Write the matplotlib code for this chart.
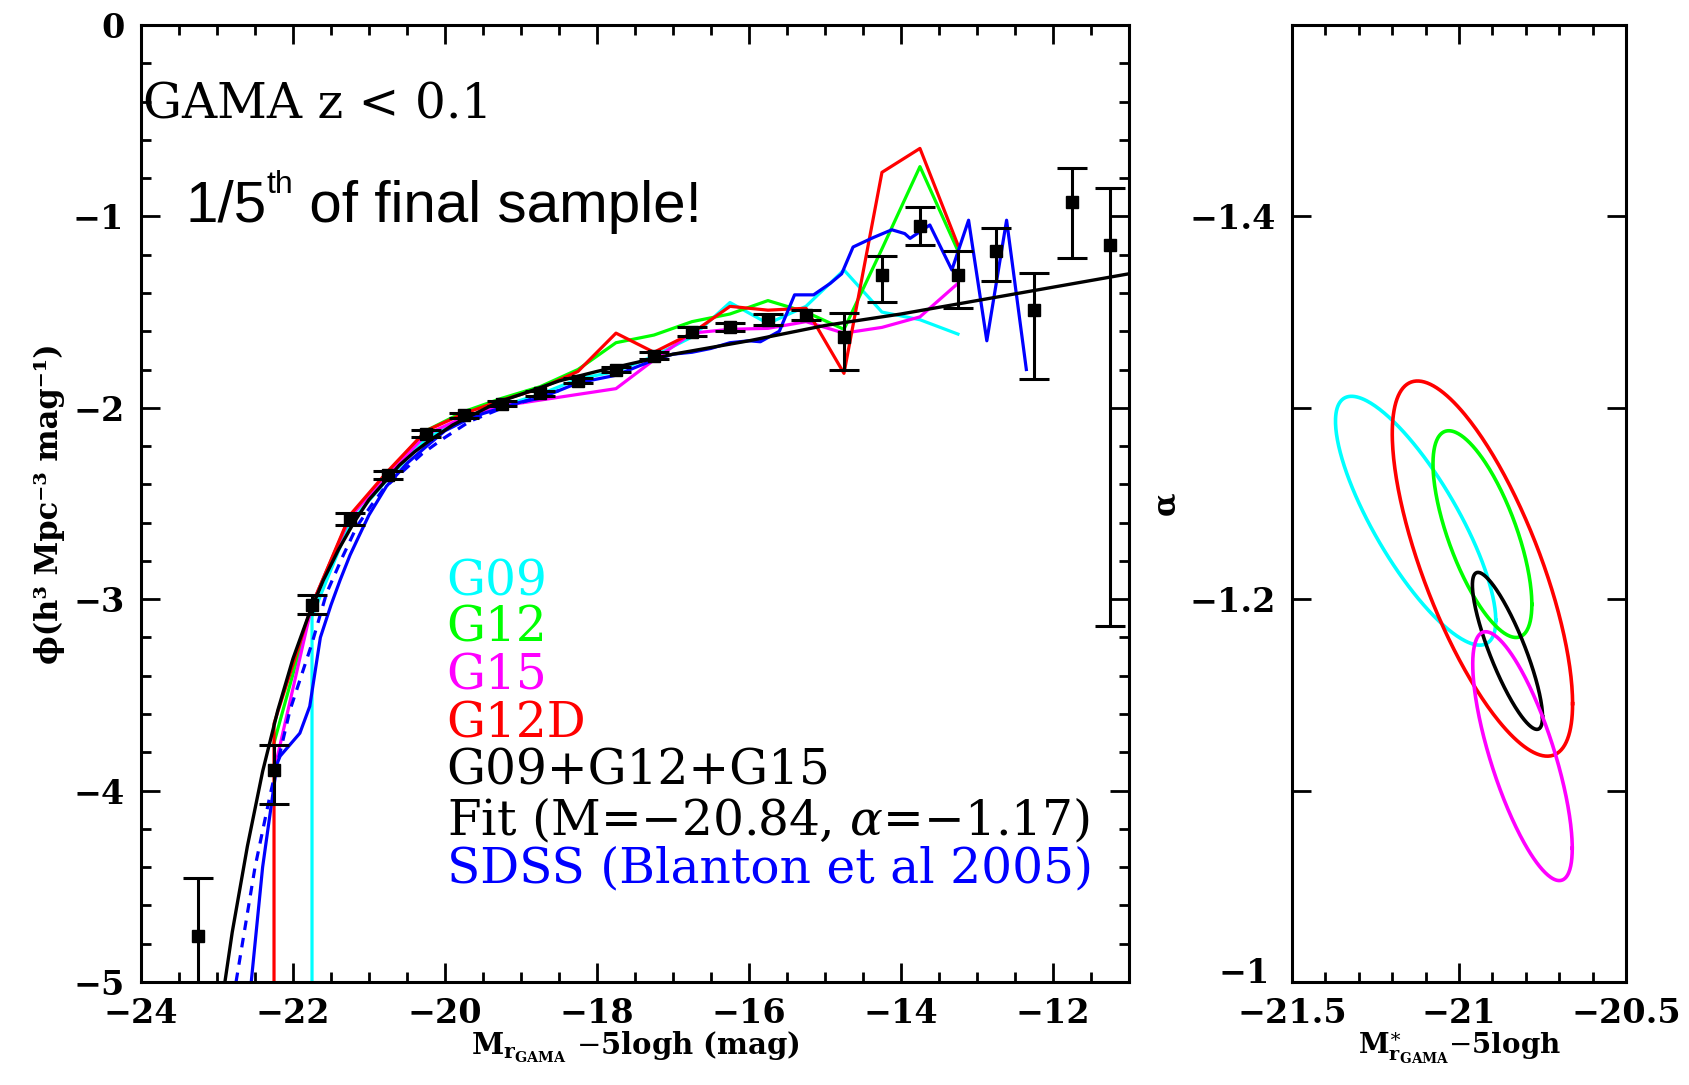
import numpy as np
import matplotlib
matplotlib.use('Agg')
import matplotlib.pyplot as plt
from matplotlib.ticker import MultipleLocator
from matplotlib.transforms import ScaledTranslation

# GAMA luminosity function, binned points (black squares)
lf_m = [-23.25, -22.25, -21.75, -21.25, -20.75, -20.25, -19.75, -19.25, -18.75, -18.25, -17.75, -17.25,
        -16.75, -16.25, -15.75, -15.25, -14.75, -14.25, -13.75, -13.25, -12.75, -12.25, -11.75, -11.25]
lf_phi = [-4.76, -3.89, -3.03, -2.58, -2.35, -2.135, -2.04, -1.978, -1.925, -1.859, -1.80, -1.73,
          -1.603, -1.577, -1.539, -1.516, -1.629, -1.307, -1.051, -1.307, -1.18, -1.49, -0.923, -1.15]
lf_hi = [-4.455, -3.764, -2.98, -2.55, -2.33, -2.115, -2.025, -1.965, -1.91, -1.845, -1.785, -1.71,
         -1.58, -1.555, -1.51, -1.49, -1.505, -1.208, -0.953, -1.18, -1.063, -1.295, -0.749, -0.854]
lf_lo = [-6.0, -4.069, -3.075, -2.61, -2.37, -2.155, -2.055, -1.99, -1.94, -1.873, -1.815, -1.745,
         -1.625, -1.60, -1.565, -1.54, -1.80, -1.446, -1.15, -1.481, -1.336, -1.852, -1.216, -3.14]

# Schechter fit curve (black)
fit_m = [-22.9, -22.8, -22.6, -22.4, -22.2, -22.0, -21.8, -21.6, -21.4, -21.2, -21.0, -20.8, -20.6, -20.4,
         -20.2, -19.9, -19.6, -19.3, -19.0, -18.5, -18.0, -17.0, -16.0, -15.0, -14.0, -13.0, -12.0, -11.0]
fit_phi = [-5.01, -4.74, -4.29, -3.90, -3.58, -3.31, -3.09, -2.90, -2.74, -2.60, -2.48, -2.39, -2.30, -2.23,
           -2.17, -2.09, -2.03, -1.97, -1.93, -1.86, -1.81, -1.72, -1.65, -1.57, -1.51, -1.44, -1.37, -1.30]

# individual regions
g09_m = [-21.75, -21.75, -21.25, -20.75, -20.25, -19.75, -19.25, -18.75, -18.25, -17.75, -17.25, -16.75,
         -16.25, -15.75, -15.25, -14.75, -14.25, -13.75, -13.25]
g09_phi = [-9.0, -3.09, -2.60, -2.37, -2.16, -2.06, -1.99, -1.93, -1.85, -1.81, -1.73, -1.63,
           -1.45, -1.56, -1.47, -1.28, -1.50, -1.54, -1.615]
g12_m = [-22.25, -21.75, -21.25, -20.75, -20.25, -19.75, -19.25, -18.75, -18.25, -17.75, -17.25, -16.75,
         -16.25, -15.75, -15.25, -14.75, -14.25, -13.75, -13.25]
g12_phi = [-3.75, -3.03, -2.57, -2.34, -2.12, -2.02, -1.95, -1.89, -1.80, -1.66, -1.62, -1.55,
           -1.51, -1.44, -1.50, -1.59, -1.17, -0.74, -1.18]
g15_m = [-22.25, -21.75, -21.25, -20.75, -20.25, -19.75, -19.25, -18.75, -18.25, -17.75, -17.25, -16.75,
         -16.25, -15.75, -15.25, -14.75, -14.25, -13.75, -13.25]
g15_phi = [-3.90, -3.03, -2.57, -2.35, -2.14, -2.05, -1.99, -1.96, -1.93, -1.90, -1.75, -1.61,
           -1.59, -1.585, -1.55, -1.61, -1.58, -1.525, -1.35]
g12d_m = [-22.25, -22.25, -21.75, -21.25, -20.75, -20.25, -19.75, -19.25, -18.75, -18.25, -17.75, -17.25,
          -16.75, -16.25, -15.75, -15.25, -14.75, -14.25, -13.75, -13.25]
g12d_phi = [-9.0, -3.65, -3.03, -2.56, -2.33, -2.12, -2.03, -1.96, -1.90, -1.81, -1.61, -1.71,
            -1.61, -1.47, -1.49, -1.48, -1.82, -0.77, -0.645, -1.15]

# SDSS (Blanton et al 2005): data (solid) and fit (dashed)
sdss_m = [-22.55, -22.4, -22.21, -22.17, -21.91, -21.78, -21.64, -21.5, -21.38, -21.25, -21.12, -21.0,
          -20.77, -20.5, -20.24, -20.0, -19.75, -19.5, -19.25, -19.0, -18.75, -18.5, -18.25, -18.0,
          -17.75, -17.5, -17.25, -17.0, -16.75, -16.5, -16.25, -16.0, -15.85, -15.6, -15.4, -15.15,
          -14.93, -14.78, -14.63, -14.36, -14.12, -13.95, -13.88, -13.62, -13.33, -13.11, -12.87, -12.61, -12.35]
sdss_phi = [-5.0, -4.40, -3.86, -3.82, -3.70, -3.56, -3.20, -3.03, -2.90, -2.77, -2.66, -2.56,
            -2.41, -2.29, -2.20, -2.12, -2.07, -2.03, -2.00, -1.97, -1.95, -1.91, -1.87, -1.85,
            -1.83, -1.79, -1.75, -1.72, -1.71, -1.69, -1.66, -1.65, -1.655, -1.60, -1.41, -1.41,
            -1.35, -1.30, -1.16, -1.11, -1.07, -1.09, -1.115, -1.045, -1.28, -1.02, -1.65, -1.02, -1.80]
blfit_m = [-22.75, -22.5, -22.3, -22.04, -21.75, -21.56, -21.35, -21.16, -20.97, -20.8, -20.55, -20.3,
           -20.02, -19.67, -19.3, -18.9, -18.5]
blfit_phi = [-5.0, -4.40, -4.02, -3.58, -3.23, -2.97, -2.78, -2.62, -2.51, -2.42, -2.33, -2.24,
             -2.16, -2.07, -2.01, -1.96, -1.91]

# error ellipses (M*, alpha): centre, half-extent in x and y, correlation
ell_names = ['G09', 'G12D', 'G12', 'G09+G12+G15', 'G15']
ell_colors = ['#00ffff', '#ff0000', '#00ff00', 'black', '#ff00ff']
ell_cx = [-21.13, -20.93, -20.93, -20.855, -20.81]
ell_cy = [-1.241, -1.216, -1.234, -1.173, -1.118]
ell_sx = [0.24, 0.27, 0.148, 0.105, 0.149]
ell_sy = [0.065, 0.098, 0.054, 0.041, 0.065]
ell_rho = [0.80, 0.72, 0.68, 0.84, 0.74]

legend_lines = ['G09', 'G12', 'G15', 'G12D', 'G09+G12+G15',
                r'Fit (M=$-$20.84, $\alpha$=$-$1.17)', 'SDSS (Blanton et al 2005)']
legend_colors = ['#00ffff', '#00ff00', '#ff00ff', '#ff0000', 'black', 'black', '#0000ff']

plt.rcParams['font.family'] = 'DejaVu Serif'
plt.rcParams['mathtext.fontset'] = 'dejavuserif'

fig = plt.figure(figsize=(16.89, 10.85), dpi=100)
ax = fig.add_axes([0.0835, 0.0949, 0.5849, 0.8821])
ax2 = fig.add_axes([0.765, 0.0949, 0.1977, 0.8821])

lw = 2.3
ax.plot(g09_m, g09_phi, color='#00ffff', lw=lw)
ax.plot(g12_m, g12_phi, color='#00ff00', lw=lw)
ax.plot(g15_m, g15_phi, color='#ff00ff', lw=lw)
ax.plot(g12d_m, g12d_phi, color='#ff0000', lw=lw)
ax.plot(sdss_m, sdss_phi, color='#0000ff', lw=lw)
ax.plot(blfit_m, blfit_phi, color='#0000ff', lw=lw, ls=(0, (3, 2.5)))
ax.plot(fit_m, fit_phi, color='black', lw=2.4)

lf_m = np.array(lf_m)
lf_phi = np.array(lf_phi)
yerr = [lf_phi - np.array(lf_lo), np.array(lf_hi) - lf_phi]
ax.errorbar(lf_m, lf_phi, yerr=yerr, fmt='s', color='black', ms=8, elinewidth=2.2,
            capsize=11, capthick=2.2)

ax.set_xlim(-24, -11)
ax.set_ylim(-5, 0)
ax.xaxis.set_major_locator(MultipleLocator(2))
ax.xaxis.set_minor_locator(MultipleLocator(0.5))
ax.yaxis.set_major_locator(MultipleLocator(1))
ax.yaxis.set_minor_locator(MultipleLocator(0.2))

ax.set_xlabel(r'$\mathbf{M}_{\mathbf{r}_{\mathbf{GAMA}}}$ $-$5logh (mag)', fontsize=21,
              fontweight='bold', labelpad=0)
ax.set_ylabel('ϕ(h³ Mpc⁻³ mag⁻¹)', fontsize=22, fontweight='bold', labelpad=6)

ax.text(-23.97, -0.42, 'GAMA z < 0.1', fontsize=35, va='center', ha='left')

t1 = ax.text(-23.42, -0.95, '1/5', fontsize=42, va='center', ha='left', family='Liberation Sans')
t2 = ax.annotate('th', xy=(1.0, 0.62), xycoords=t1, fontsize=23, va='bottom', ha='left',
                 family='Liberation Sans')
ax.annotate(' of final sample!', xy=(1.0, 0.0), xycoords=(t2, t1), fontsize=42, va='bottom',
            ha='left', family='Liberation Sans')

leg_y = [-2.91, -3.15, -3.40, -3.65, -3.90, -4.16, -4.41]
for txt, col, yy in zip(legend_lines, legend_colors, leg_y):
    ax.text(-19.98, yy, txt, color=col, fontsize=35, va='center', ha='left')

# right panel: alpha vs M*
t = np.linspace(0, 2 * np.pi, 300)
for cx, cy, sx, sy, r, col in zip(ell_cx, ell_cy, ell_sx, ell_sy, ell_rho, ell_colors):
    ex = cx + sx * np.cos(t)
    ey = cy + sy * (r * np.cos(t) + np.sqrt(1 - r ** 2) * np.sin(t))
    ax2.plot(ex, ey, color=col, lw=2.6)

ax2.set_xlim(-21.5, -20.5)
ax2.set_ylim(-1.0, -1.5)
ax2.set_xticks([-21.5, -21.0, -20.5])
ax2.set_xticklabels(['−21.5', '−21', '−20.5'])
ax2.xaxis.set_minor_locator(MultipleLocator(0.1))
ax2.set_yticks([-1.4, -1.3, -1.2, -1.1, -1.0])
ax2.set_yticklabels(['−1.4', '', '−1.2', '', '−1'])
ax2.set_xlabel(r'$\mathbf{M}^{\ast}_{\mathbf{r}_{\mathbf{GAMA}}}$$-$5logh', fontsize=20,
               fontweight='bold', labelpad=0)
ax2.set_ylabel('α', fontsize=22, fontweight='bold', labelpad=6)

for a in (ax, ax2):
    for s in a.spines.values():
        s.set_linewidth(2.2)
    a.tick_params(which='both', direction='in', top=True, right=True, width=2)
    a.tick_params(which='major', length=14, labelsize=24)
    a.tick_params(which='minor', length=7)
    a.tick_params(axis='y', pad=12)
    a.tick_params(axis='x', pad=11)
    for lab in a.get_xticklabels() + a.get_yticklabels():
        lab.set_fontweight('bold')
ax2.tick_params(axis='y', which='minor', left=False, right=False)

# the "-1" label sits a little higher in the original, clear of "-21.5"
lab_m1 = ax2.get_yticklabels()[-1]
lab_m1.set_transform(lab_m1.get_transform() + ScaledTranslation(-4 / 72, 9 / 72, fig.dpi_scale_trans))

fig.savefig('out.png', dpi=100)
